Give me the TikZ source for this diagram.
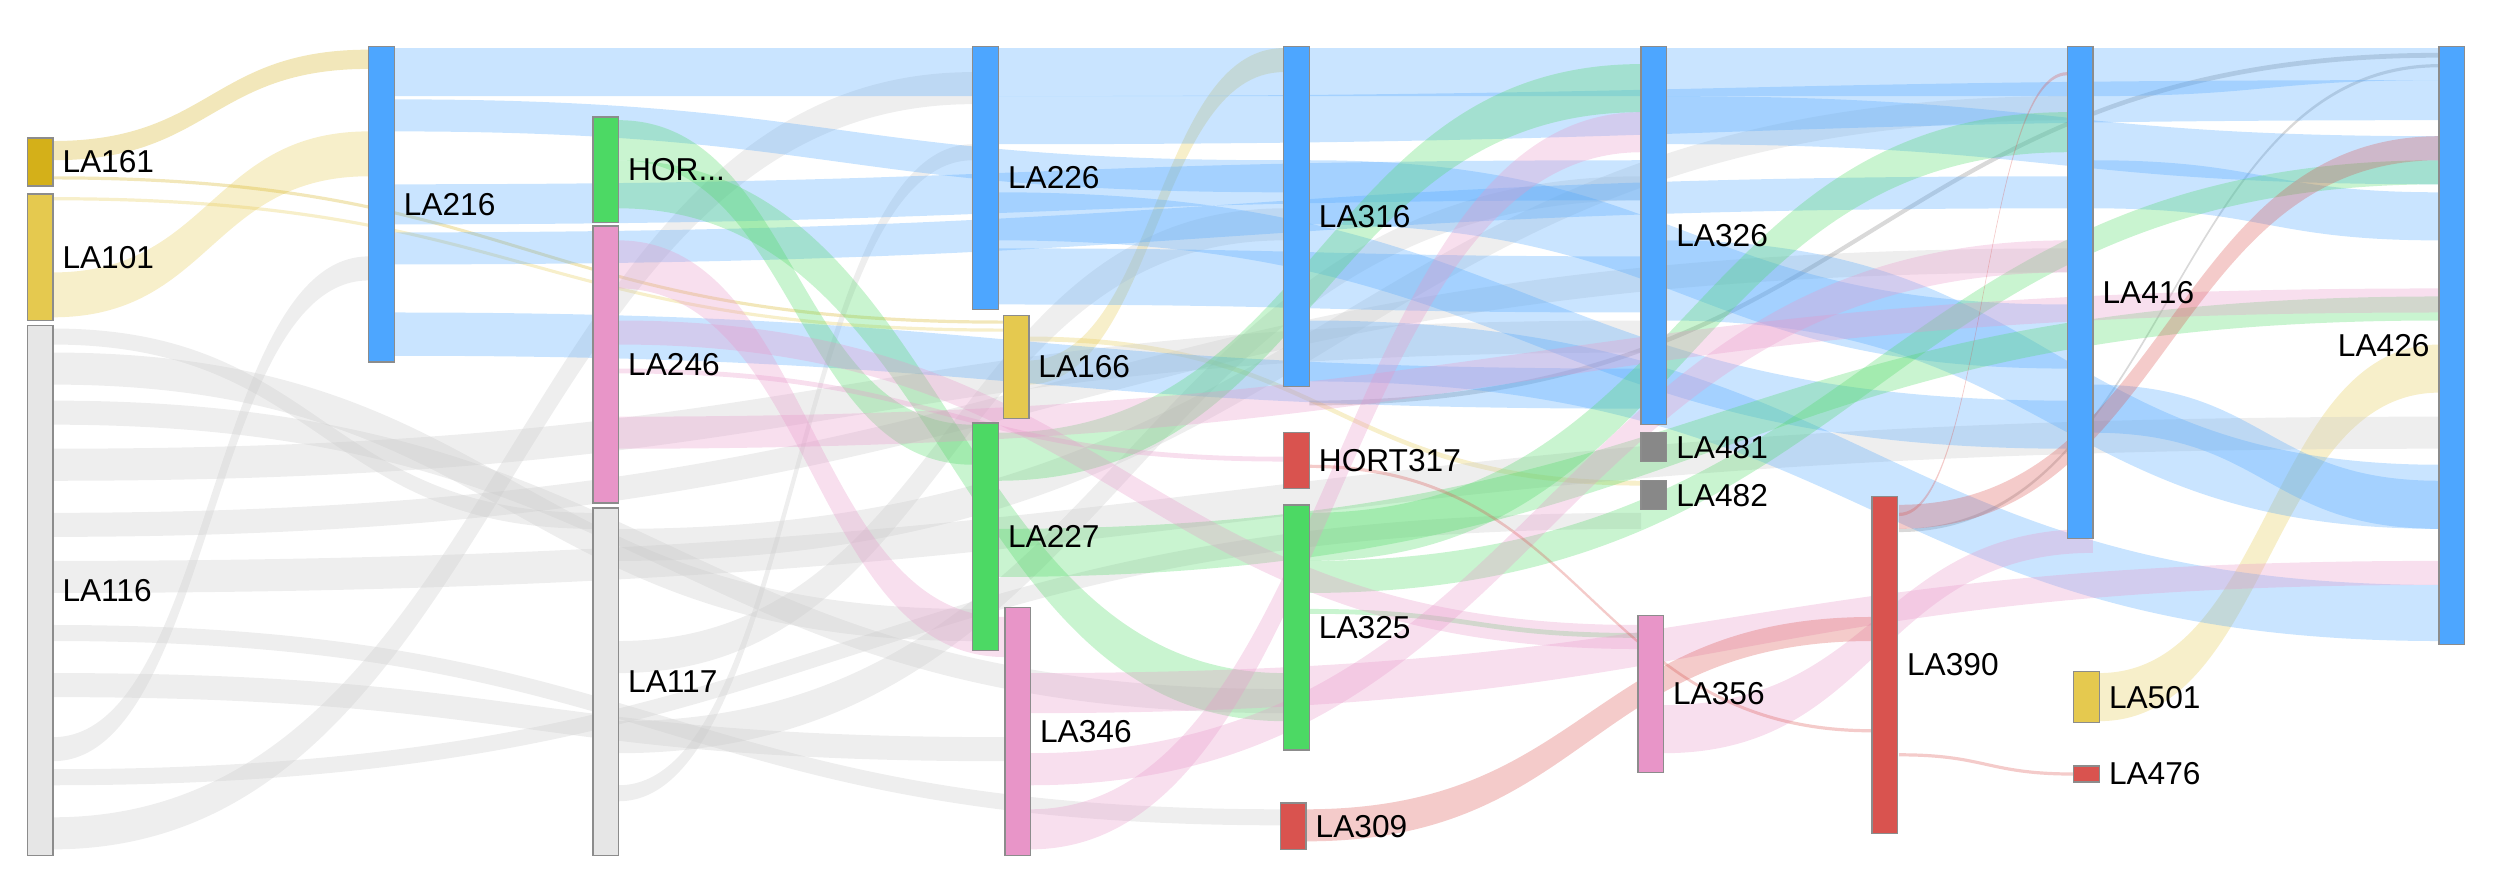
\documentclass[tikz,border=0pt]{standalone}
\usepackage{fontspec}
\setmainfont{Liberation Sans}
\usepackage{tikz}
\usetikzlibrary{positioning}

\definecolor{cblue}{HTML}{4DA6FF}
\definecolor{cgreen}{HTML}{4CD964}
\definecolor{cpink}{HTML}{E895C8}
\definecolor{cred}{HTML}{D9534F}
\definecolor{cyel}{HTML}{E5C94F}
\definecolor{cdyel}{HTML}{D4B019}
\definecolor{cgrey}{HTML}{E6E6E6}
\definecolor{cdgrey}{HTML}{888888}
\definecolor{cflow}{HTML}{C8C8C8}

\tikzset{
  bar/.style={draw=black!45, inner sep=0pt, minimum width={16*0.016cm}},
  lbl/.style={right=-1pt, font=\fontsize{9}{11}\selectfont},
}

% band from (x1; y1a..y1b) to (x2; y2a..y2b)
\newcommand{\flow}[7]{%
  \fill[#7, opacity=.3] (#1,#2) .. controls ({(#1+#4)/2},#2) and ({(#1+#4)/2},#5) .. (#4,#5)
    -- (#4,#6) .. controls ({(#1+#4)/2},#6) and ({(#1+#4)/2},#3) .. (#1,#3) -- cycle;}
% bar node: name, x, ytop, ybottom, colour, label
\newcommand{\sbar}[6]{%
  \node[bar, fill=#5, minimum height={(#4-#3)*0.016cm}] (#1) at ({#2+8},{(#3+#4)/2}) {};
  \node[lbl] at (#1.east) {#6};}

\begin{document}
\begin{tikzpicture}[x=0.016cm, y=-0.016cm]
  \useasboundingbox (0,0) rectangle (1560,545);

  % yellow flows
  \flow{33}{88}{100}{230}{31}{43}{cdyel}
  \flow{33}{170}{198}{230}{82}{110}{cyel}
  \flow{33}{110}{112}{626}{200}{202}{cdyel}
  \flow{33}{123}{125}{626}{205}{207}{cyel}
  \flow{641}{225}{240}{801}{30}{45}{cyel}
  \flow{641}{210}{213}{1024}{300}{303}{cyel}
  \flow{1310}{420}{450}{1522}{215}{245}{cyel}

  % grey flows
  \flow{33}{205}{215}{370}{320}{330}{cflow}
  \flow{33}{220}{240}{607}{380}{400}{cflow}
  \flow{33}{250}{265}{801}{430}{445}{cflow}
  \flow{33}{280}{300}{1024}{200}{220}{cflow}
  \flow{33}{320}{335}{1290}{155}{170}{cflow}
  \flow{33}{350}{370}{1522}{260}{280}{cflow}
  \flow{33}{390}{400}{799}{505}{515}{cflow}
  \flow{33}{420}{435}{627}{460}{475}{cflow}
  \flow{33}{460}{475}{230}{160}{175}{cflow}
  \flow{33}{510}{530}{607}{45}{65}{cflow}
  \flow{33}{480}{490}{1024}{320}{330}{cflow}
  \flow{386}{330}{350}{1290}{60}{75}{cflow}
  \flow{386}{400}{420}{801}{130}{150}{cflow}
  \flow{386}{450}{470}{1024}{110}{125}{cflow}
  \flow{386}{490}{500}{607}{90}{100}{cflow}
  \flow{817}{250}{253}{1522}{33}{36}{gray}
  \flow{1185}{330}{332}{1522}{40}{42}{gray}

  % blue flows
  \flow{246}{30}{60}{607}{30}{60}{cblue}
  \flow{246}{62}{82}{801}{100}{120}{cblue}
  \flow{246}{115}{140}{1024}{100}{125}{cblue}
  \flow{246}{145}{165}{1290}{110}{130}{cblue}
  \flow{246}{195}{222}{1024}{230}{255}{cblue}
  \flow{623}{30}{60}{801}{30}{60}{cblue}
  \flow{623}{60}{90}{1522}{50}{75}{cblue}
  \flow{623}{120}{150}{1290}{250}{280}{cblue}
  \flow{623}{155}{190}{1024}{160}{195}{cblue}
  \flow{817}{30}{60}{1024}{30}{60}{cblue}
  \flow{817}{100}{140}{1290}{190}{230}{cblue}
  \flow{817}{200}{238}{1522}{365}{400}{cblue}
  \flow{1040}{30}{60}{1290}{30}{60}{cblue}
  \flow{1040}{60}{90}{1522}{85}{115}{cblue}
  \flow{1040}{150}{200}{1522}{290}{330}{cblue}
  \flow{1306}{30}{60}{1522}{30}{50}{cblue}
  \flow{1306}{100}{130}{1522}{120}{150}{cblue}
  \flow{1306}{240}{270}{1522}{300}{330}{cblue}

  % green flows
  \flow{386}{75}{100}{607}{265}{290}{cgreen}
  \flow{386}{100}{130}{801}{420}{450}{cgreen}
  \flow{623}{270}{300}{1024}{40}{70}{cgreen}
  \flow{623}{330}{360}{1522}{185}{200}{cgreen}
  \flow{817}{320}{350}{1290}{70}{95}{cgreen}
  \flow{817}{350}{370}{1522}{100}{115}{cgreen}
  \flow{817}{380}{383}{1022}{395}{398}{cgreen}

  % pink flows
  \flow{386}{150}{180}{627}{385}{410}{cpink}
  \flow{386}{200}{215}{1022}{390}{405}{cpink}
  \flow{386}{260}{280}{1522}{180}{195}{cpink}
  \flow{386}{230}{233}{801}{285}{288}{cpink}
  \flow{643}{420}{445}{1522}{350}{365}{cpink}
  \flow{643}{505}{530}{1024}{70}{95}{cpink}
  \flow{643}{470}{490}{1290}{150}{170}{cpink}
  \flow{1038}{440}{470}{1306}{330}{345}{cpink}

  % red flows
  \flow{815}{505}{525}{1168}{385}{400}{cred}
  \flow{1185}{315}{330}{1522}{85}{100}{cred}
  \flow{817}{290}{292}{1168}{455}{457}{cred}
  \flow{1185}{470}{472}{1294}{482}{484}{cred}
  \flow{1185}{320}{322}{1290}{45}{47}{cred}

  % bars
  \sbar{la161}{17}{86}{116}{cdyel}{LA161}
  \sbar{la101}{17}{121}{200}{cyel}{LA101}
  \sbar{la116}{17}{203}{534}{cgrey}{LA116}
  \sbar{la216}{230}{29}{226}{cblue}{LA216}
  \sbar{hor}{370}{73}{139}{cgreen}{HOR...}
  \sbar{la246}{370}{141}{314}{cpink}{LA246}
  \sbar{la117}{370}{317}{534}{cgrey}{LA117}
  \sbar{la226}{607}{29}{193}{cblue}{LA226}
  \sbar{la166}{626}{197}{261}{cyel}{LA166}
  \sbar{la227}{607}{264}{406}{cgreen}{LA227}
  \sbar{la346}{627}{379}{534}{cpink}{LA346}
  \sbar{la316}{801}{29}{241}{cblue}{LA316}
  \sbar{hort317}{801}{270}{305}{cred}{HORT317}
  \sbar{la325}{801}{315}{468}{cgreen}{LA325}
  \sbar{la309}{799}{501}{530}{cred}{LA309}
  \sbar{la326}{1024}{29}{265}{cblue}{LA326}
  \sbar{la481}{1024}{270}{288}{cdgrey}{LA481}
  \sbar{la482}{1024}{300}{318}{cdgrey}{LA482}
  \sbar{la356}{1022}{384}{482}{cpink}{LA356}
  \sbar{la390}{1168}{310}{520}{cred}{LA390}
  \sbar{la416}{1290}{29}{336}{cblue}{LA416}
  \sbar{la501}{1294}{419}{451}{cyel}{LA501}
  \sbar{la476}{1294}{478}{488}{cred}{LA476}
  \node[bar, fill=cblue, minimum height={373*0.016cm}] (la426) at (1530,215.5) {};
  \node[left=-1pt, font=\fontsize{9}{11}\selectfont] at (la426.west) {LA426};
\end{tikzpicture}
\end{document}
